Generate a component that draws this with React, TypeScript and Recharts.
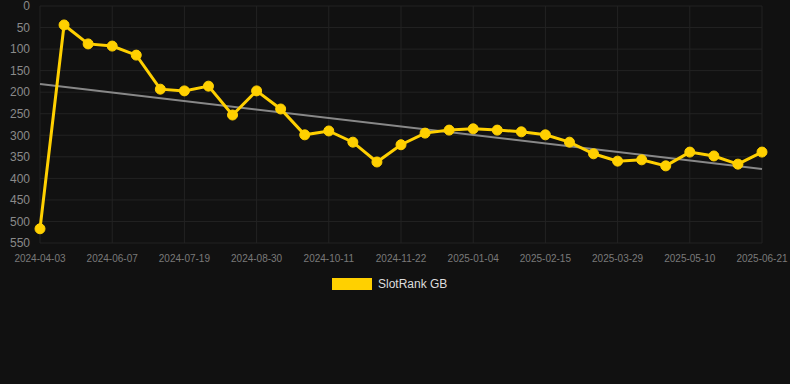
import { LineChart, Line, XAxis, YAxis, CartesianGrid } from 'recharts';

const F = '"Liberation Sans", Arial, sans-serif';
const BG = '#111111';
const GOLD = '#FFD000';

const SERIES_NAME = 'SlotRank GB';

const DATES = [
  '2024-04-03', '2024-05-10', '2024-05-24', '2024-06-07', '2024-06-21', '2024-07-05',
  '2024-07-19', '2024-08-02', '2024-08-16', '2024-08-30', '2024-09-13', '2024-09-27',
  '2024-10-11', '2024-10-25', '2024-11-08', '2024-11-22', '2024-12-06', '2024-12-20',
  '2025-01-04', '2025-01-18', '2025-02-01', '2025-02-15', '2025-03-01', '2025-03-15',
  '2025-03-29', '2025-04-12', '2025-04-26', '2025-05-10', '2025-05-24', '2025-06-07',
  '2025-06-21',
];

const RANKS = [
  517, 44, 88, 93, 114, 193, 197, 186, 253, 197, 239, 299, 290, 316, 362, 322,
  295, 288, 285, 288, 292, 299, 316, 343, 360, 357, 371, 339, 348, 367, 339,
];

// trend line end points
const TREND_START = 181;
const TREND_END = 378;

const Y_TICKS = [0, 50, 100, 150, 200, 250, 300, 350, 400, 450, 500, 550];

const data = DATES.map((date, i) => ({
  date,
  rank: RANKS[i],
  trend: i === 0 ? TREND_START : i === DATES.length - 1 ? TREND_END : null,
}));

export default function App() {
  return (
    <div style={{ position: 'fixed', left: 0, top: 0, width: 790, height: 384, background: BG, fontFamily: F }}>
      <LineChart width={790} height={384} data={data} margin={{ top: 6, right: 28, bottom: 121, left: 0 }}>
        <CartesianGrid stroke="#232323" strokeWidth={1} />
        <XAxis
          dataKey="date"
          interval={2}
          axisLine={false}
          tickLine={false}
          tickMargin={6}
          height={20}
          tick={{ fontSize: 10, fill: '#7a7a7a', fontFamily: F }}
        />
        <YAxis
          reversed
          domain={[0, 550]}
          ticks={Y_TICKS}
          interval={0}
          width={40}
          axisLine={false}
          tickLine={false}
          tickMargin={4}
          tick={{ fontSize: 12, fill: '#8a8a8a', fontFamily: F }}
        />
        <Line
          dataKey="trend"
          connectNulls
          stroke="#888"
          strokeWidth={2}
          dot={false}
          activeDot={false}
          isAnimationActive={false}
        />
        <Line
          dataKey="rank"
          name={SERIES_NAME}
          stroke={GOLD}
          strokeWidth={3}
          dot={{ r: 5, fill: GOLD, stroke: GOLD, strokeWidth: 1 }}
          isAnimationActive={false}
        />
      </LineChart>
      <div style={{ position: 'absolute', left: 332, top: 278, display: 'flex', alignItems: 'center' }}>
        <div style={{ width: 40, height: 12, background: GOLD }} />
        <span style={{ marginLeft: 6, fontSize: 12, color: '#dddddd', lineHeight: '12px' }}>{SERIES_NAME}</span>
      </div>
    </div>
  );
}
